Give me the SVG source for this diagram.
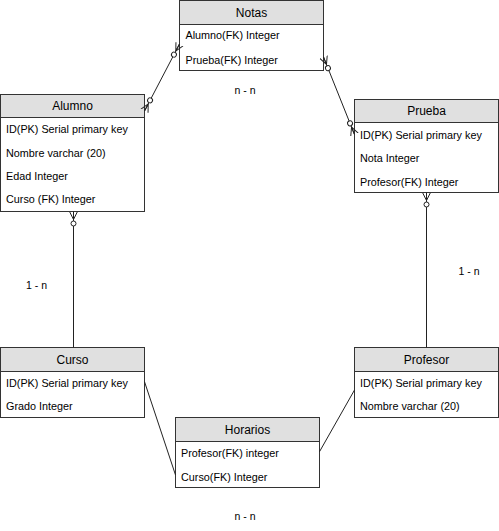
<svg xmlns="http://www.w3.org/2000/svg" width="499" height="531" viewBox="0 0 499 531">
<style>
.box{fill:#fff;stroke:#333;stroke-width:1}
.hdr{fill:#e0e0e0;stroke:#333;stroke-width:1}
.title{font-family:"Liberation Sans",Arial,sans-serif;font-size:12px;fill:#000;text-anchor:middle}
.attr{font-family:"Liberation Sans",Arial,sans-serif;font-size:10.8px;fill:#000}
.lbl{font-family:"Liberation Sans",Arial,sans-serif;font-size:10.5px;fill:#000;text-anchor:middle}
.edge{fill:none;stroke:#222;stroke-width:1}
</style>
<defs>
<marker id="zm" markerUnits="userSpaceOnUse" viewBox="0 0 20 12" markerWidth="20" markerHeight="12" refX="20" refY="6" orient="auto-start-reverse">
<path d="M20,2 L12,6 L20,10 M12,6 L20,6" fill="none" stroke="#222" stroke-width="1"/>
<circle cx="8" cy="6" r="2.5" fill="#fff" stroke="#222" stroke-width="1"/>
</marker>
</defs>
<rect width="499" height="531" fill="#fff"/>
<g id="notas">
<rect class="box" x="179.5" y="0.5" width="144" height="70"/>
<rect class="hdr" x="179.5" y="0.5" width="144" height="24"/>
<text class="title" x="251.5" y="16.8">Notas</text>
<text class="attr" x="185.5" y="38.9">Alumno(FK) Integer</text>
<text class="attr" x="185.5" y="63.9">Prueba(FK) Integer</text>
</g>
<g id="alumno">
<rect class="box" x="0.5" y="94.5" width="144" height="117"/>
<rect class="hdr" x="0.5" y="94.5" width="144" height="23"/>
<text class="title" x="72.5" y="110.3">Alumno</text>
<text class="attr" x="6" y="133.2">ID(PK) Serial primary key</text>
<text class="attr" x="6" y="156.5">Nombre varchar (20)</text>
<text class="attr" x="6" y="179.8">Edad Integer</text>
<text class="attr" x="6" y="203.1">Curso (FK) Integer</text>
</g>
<g id="prueba">
<rect class="box" x="354.5" y="99.5" width="144" height="93"/>
<rect class="hdr" x="354.5" y="99.5" width="144" height="23"/>
<text class="title" x="426.5" y="115.3">Prueba</text>
<text class="attr" x="360" y="138.9">ID(PK) Serial primary key</text>
<text class="attr" x="360" y="162.2">Nota Integer</text>
<text class="attr" x="360" y="185.5">Profesor(FK) Integer</text>
</g>
<g id="curso">
<rect class="box" x="0.5" y="347.5" width="144" height="70"/>
<rect class="hdr" x="0.5" y="347.5" width="144" height="24"/>
<text class="title" x="72.5" y="363.8">Curso</text>
<text class="attr" x="6" y="387.2">ID(PK) Serial primary key</text>
<text class="attr" x="6" y="410.4">Grado Integer</text>
</g>
<g id="profesor">
<rect class="box" x="354.5" y="347.5" width="144" height="70"/>
<rect class="hdr" x="354.5" y="347.5" width="144" height="24"/>
<text class="title" x="426.5" y="363.8">Profesor</text>
<text class="attr" x="360" y="387.2">ID(PK) Serial primary key</text>
<text class="attr" x="360" y="410.4">Nombre varchar (20)</text>
</g>
<g id="horarios">
<rect class="box" x="175.5" y="417.5" width="144" height="70"/>
<rect class="hdr" x="175.5" y="417.5" width="144" height="24"/>
<text class="title" x="247.5" y="433.8">Horarios</text>
<text class="attr" x="181" y="457.2">Profesor(FK) integer</text>
<text class="attr" x="181" y="480.5">Curso(FK) Integer</text>
</g>
<g id="connectors">
<path class="edge" d="M144.5,111 L179.5,44" marker-start="url(#zm)" marker-end="url(#zm)"/>
<path class="edge" d="M323.5,57 L354.5,134.5" marker-start="url(#zm)" marker-end="url(#zm)"/>
<path class="edge" d="M73.5,211.5 L73.5,347.5" marker-start="url(#zm)"/>
<path class="edge" d="M426.5,192.5 L426.5,347.5" marker-start="url(#zm)"/>
<path class="edge" d="M144.5,381.7 L175.5,475"/>
<path class="edge" d="M354.5,390 L319.5,451.7"/>
</g>
<g id="labels">
<text class="lbl" x="245" y="93.7">n - n</text>
<text class="lbl" x="36.5" y="289">1 - n</text>
<text class="lbl" x="469" y="275.4">1 - n</text>
<text class="lbl" x="245" y="519.7">n - n</text>
</g>
</svg>
